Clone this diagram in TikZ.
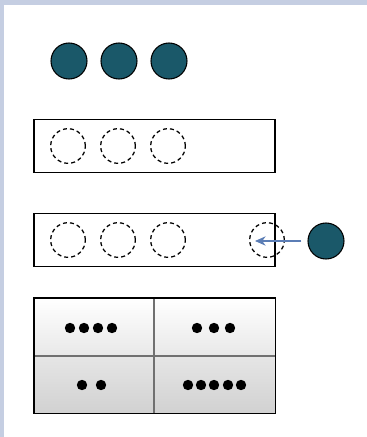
\documentclass[tikz,border=0pt]{standalone}
\usepackage{xcolor}
\usepackage{tikz}
\usetikzlibrary{arrows.meta,positioning,backgrounds}
\definecolor{clrFrame}{HTML}{C5CEE2}
\definecolor{clrBall}{HTML}{1A5869}
\definecolor{clrArrow}{HTML}{5B7DB5}
\definecolor{clrGrid}{HTML}{707070}
\tikzset{
  ball/.style={circle, draw=black, line width=0.8pt, fill=clrBall,
    minimum size=27pt, inner sep=0pt},
  slot/.style={circle, draw=black, line width=0.95pt, dash pattern=on 3pt off 2.3pt,
    minimum size=26pt, inner sep=0pt},
  tray/.style={rectangle, draw=black, line width=0.9pt, minimum width=180.75pt,
    minimum height=40pt, inner sep=0pt},
  cell/.style={rectangle, minimum width=90.375pt, minimum height=43.125pt, inner sep=0pt},
  celltop/.style={cell, top color=white, bottom color=black!9},
  cellbot/.style={cell, top color=black!10, bottom color=black!18},
  pip/.style={circle, fill=black, minimum size=7.8pt, inner sep=0pt},
  push/.style={-{Stealth[length=8pt,width=7pt]}, line width=0.8pt, clrArrow},
}
\begin{document}
\begin{tikzpicture}[x=0.75pt, y=-0.75pt]

\def\yball{61}   % obere Reihe
\def\ytrA{146}   % erstes Fach
\def\ytrB{240}   % zweites Fach
\useasboundingbox (0,0) rectangle (367,437);

\fill[clrFrame] (0,0) rectangle (367,4.5);
\fill[clrFrame] (0,0) rectangle (4,437);

% obere Kugeln
\foreach \i/\x in {1/69, 2/119, 3/169}{
  \node[ball] (b\i) at (\x, \yball) {};
}

% zwei Faecher mit Plaetzen
\node[tray] (trA) at (154.5, \ytrA) {};
\node[tray] (trB) at (154.5, \ytrB) {};
\foreach \i/\x in {1/68, 2/118, 3/168}{
  \node[slot] (sA\i) at (\x, \ytrA) {};
  \node[slot] (sB\i) at (\x, \ytrB) {};
}
\node[slot] (sB4) at (267, \ytrB) {};
\node[ball] (inc) at (326, 241) {};
\coordinate (tip) at (255, 241);
\draw[push, shorten <=4.5pt] (inc) -- (tip);

% Tabelle 2x2
\node[celltop, anchor=north west] (c11) at (34, 298) {};
\node[celltop, anchor=north west] (c12) at (154.5, 298) {};
\node[cellbot, anchor=north west] (c21) at (34, 355.5) {};
\node[cellbot, anchor=north west] (c22) at (154.5, 355.5) {};
\draw[clrGrid, line width=1.5pt] (c12.north west) -- (c22.south west);
\draw[clrGrid, line width=1.5pt] (c21.north west) -- (c22.north east);
\draw[black, line width=1.2pt] (c11.north west) rectangle (c22.south east);

\foreach \x in {70, 84, 98, 112}{ \node[pip] at (\x, 328) {}; }
\foreach \x in {197, 214, 230}{ \node[pip] at (\x, 328) {}; }
\foreach \x in {82, 101}{ \node[pip] at (\x, 385) {}; }
\foreach \x in {188, 201, 214, 228, 241}{ \node[pip] at (\x, 385) {}; }

\end{tikzpicture}
\end{document}
